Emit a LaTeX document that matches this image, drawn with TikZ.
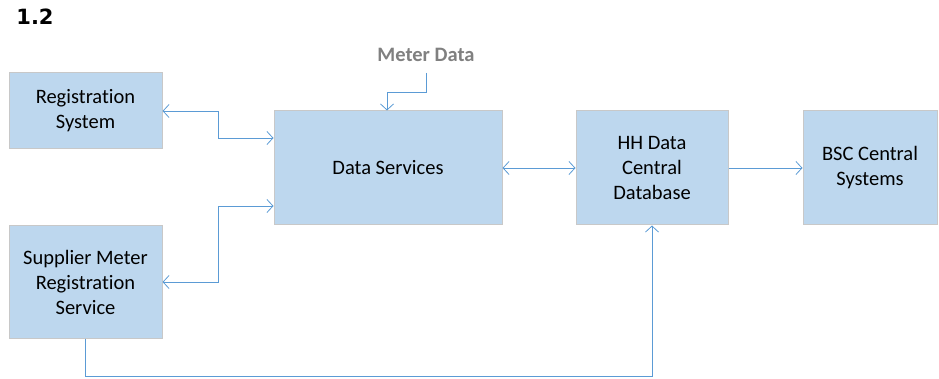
\documentclass[tikz,border=0pt]{standalone}
\usepackage{fontspec}
\setmainfont{Carlito}[Ligatures=CommonOff]
\newfontfamily\headfont{DejaVu Sans}
\usetikzlibrary{arrows.meta}

\definecolor{boxblue}{RGB}{189,215,238}
\definecolor{boxline}{RGB}{200,200,200}
\definecolor{linkblue}{RGB}{91,155,213}
\definecolor{labelgray}{RGB}{128,128,128}

\tikzset{
  sysbox/.style={fill=boxblue, draw=boxline, line width=1pt, align=center,
    inner sep=0pt, font=\fontsize{20.5}{25}\selectfont},
  link/.style={draw=linkblue, line width=0.8pt,
    arrows={-Straight Barb[length=6pt,width=13pt]}},
  biglink/.style={link, arrows={Straight Barb[length=6pt,width=13pt]-Straight Barb[length=6pt,width=13pt]}}
}

\begin{document}
\begin{tikzpicture}[x=1pt,y=-1pt]
		\useasboundingbox (0,0) rectangle (939,379);
		
		\node [font=\headfont\bfseries\fontsize{21}{22}\selectfont] (title) at (35,17) {1.2};
		
		\node [sysbox, minimum width=153pt, minimum height=76pt] (reg) at (85.5,111) {Registration\\System};
		\node [sysbox, minimum width=153pt, minimum height=112pt] (sup) at (85.5,282) {Supplier Meter\\Registration\\Service};
		\node [sysbox, minimum width=228pt, minimum height=114pt] (ds) at (388,168) {Data Services};
		\node [sysbox, minimum width=152pt, minimum height=114pt] (hh) at (652,168) {HH Data\\Central\\Database};
		\node [sysbox, minimum width=134pt, minimum height=114pt] (bsc) at (870,168) {BSC Central\\Systems};
		
		\node [text=labelgray, font=\bfseries\fontsize{20.5}{22}\selectfont] (meter) at (426,55) {Meter Data};
		\coordinate (mtail) at (426,73);
		
		% links into and out of Data Services
		\draw [biglink] (reg.east) -- ++(56,0) |- ([yshift=30pt]ds.west);
		\draw [biglink] (sup.east) -- ++(56,0) |- ([yshift=-38pt]ds.west);
		\draw [link] (mtail) -- ++(0,19) -| ([xshift=-1pt]ds.north);
		\draw [biglink] (ds.east) -- (hh.west);
		
		\draw [link] (hh.east) -- (bsc.west);
		\draw [link] (sup.south) -- ++(0,38) -| (hh.south);
		
\end{tikzpicture}
\end{document}
